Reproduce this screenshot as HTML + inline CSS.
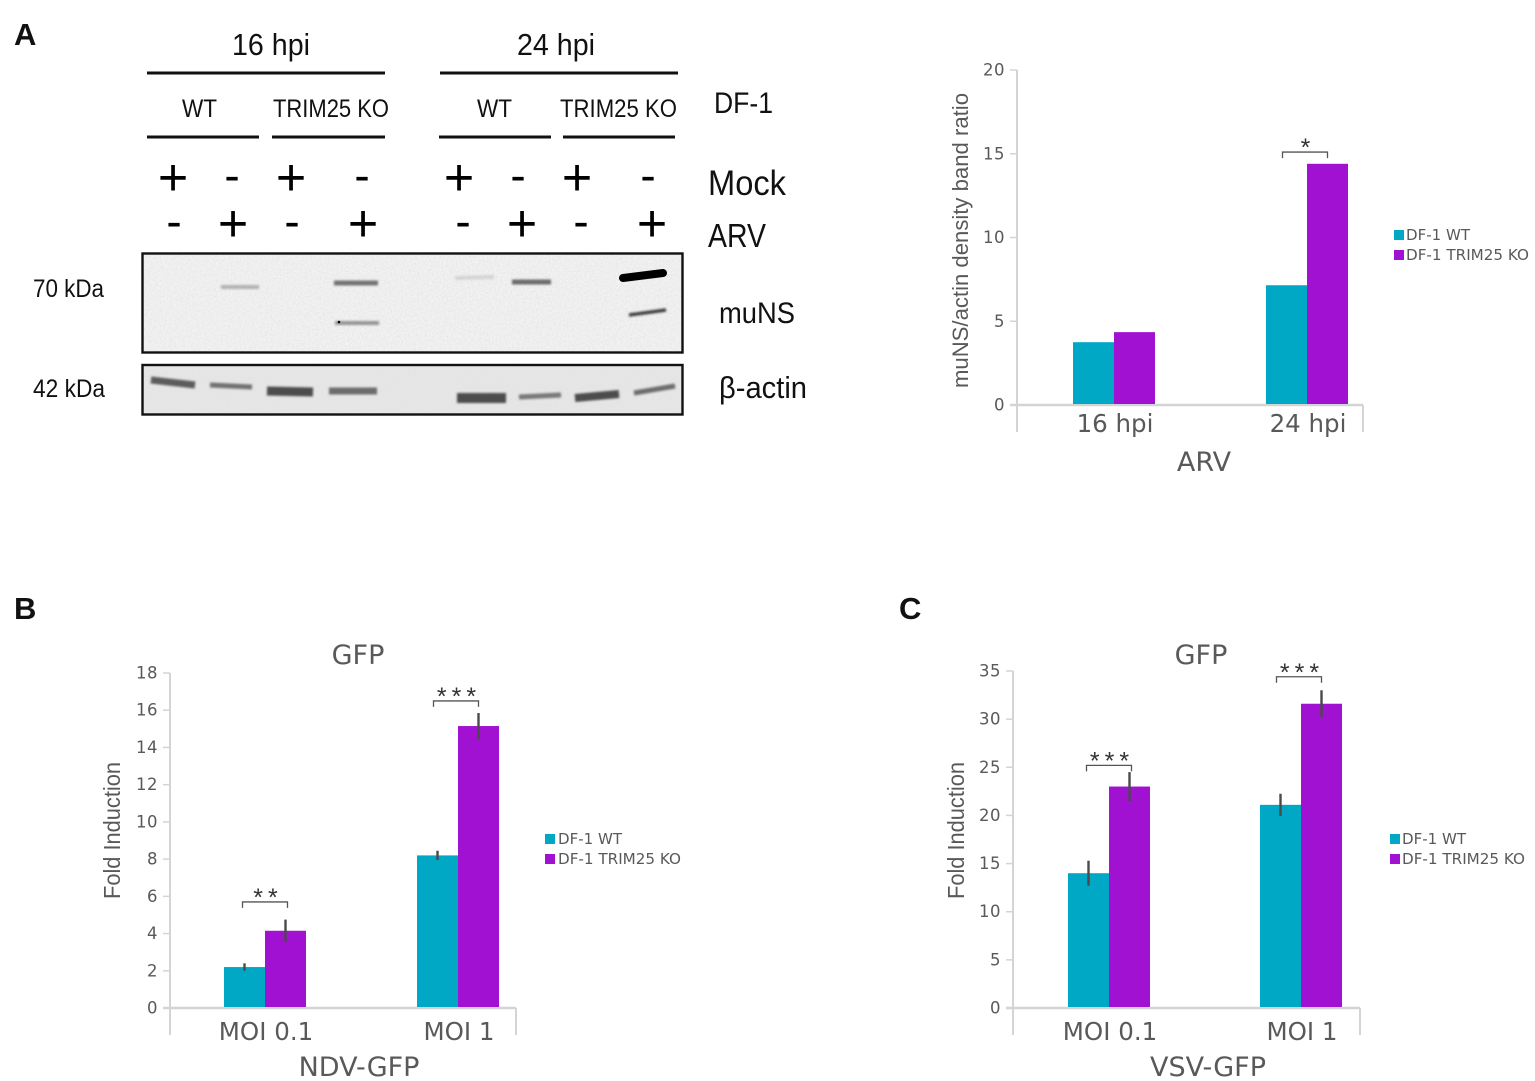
<!DOCTYPE html>
<html lang="en">
<head>
<meta charset="utf-8">
<title>TRIM25 KO figure</title>
<style>
html,body{margin:0;padding:0;background:#fff;width:1535px;height:1081px;overflow:hidden}
svg{display:block;filter:blur(0.35px)}
.w{font-family:"Liberation Sans",sans-serif;fill:#111}
.t{font-family:"DejaVu Sans",sans-serif;fill:#595959}
.pm{font-family:"Liberation Sans",sans-serif;fill:#000;text-anchor:middle}
</style>
</head>
<body>
<svg id="fig" xmlns="http://www.w3.org/2000/svg" width="1535" height="1081" viewBox="0 0 1535 1081">
<defs>
<filter id="soft" filterUnits="userSpaceOnUse" x="130" y="240" width="570" height="190"><feGaussianBlur stdDeviation="1.1"/></filter>
<filter id="noise" x="0" y="0" width="100%" height="100%"><feTurbulence type="fractalNoise" baseFrequency="0.55" numOctaves="2" seed="4"/><feColorMatrix type="matrix" values="0 0 0 0 0.45  0 0 0 0 0.45  0 0 0 0 0.45  0.9 0 0 0 -0.3"/></filter>
</defs>

<text class="w" x="14" y="45" font-size="31" font-weight="bold">A</text>
<text class="w" x="14" y="619" font-size="31" font-weight="bold">B</text>
<text class="w" x="899" y="619" font-size="31" font-weight="bold">C</text>

<g>
<text class="w" x="232" y="55" font-size="31" textLength="78" lengthAdjust="spacingAndGlyphs">16 hpi</text>
<text class="w" x="517" y="55" font-size="31" textLength="78" lengthAdjust="spacingAndGlyphs">24 hpi</text>
<rect x="147" y="71.5" width="238" height="3" fill="#111"/>
<rect x="440" y="71.5" width="238" height="3" fill="#111"/>
<text class="w" x="182" y="117" font-size="25" textLength="35" lengthAdjust="spacingAndGlyphs">WT</text>
<text class="w" x="273" y="117" font-size="25" textLength="116" lengthAdjust="spacingAndGlyphs">TRIM25 KO</text>
<text class="w" x="477" y="117" font-size="25" textLength="35" lengthAdjust="spacingAndGlyphs">WT</text>
<text class="w" x="560" y="117" font-size="25" textLength="117" lengthAdjust="spacingAndGlyphs">TRIM25 KO</text>
<text class="w" x="714" y="113" font-size="30" textLength="59" lengthAdjust="spacingAndGlyphs">DF-1</text>
<rect x="147" y="135.5" width="112" height="3" fill="#111"/>
<rect x="272" y="135.5" width="113" height="3" fill="#111"/>
<rect x="439" y="135.5" width="112" height="3" fill="#111"/>
<rect x="563" y="135.5" width="112" height="3" fill="#111"/>
</g>

<g>
<text class="pm" x="173" y="195" font-size="52">+</text>
<text class="pm" x="232" y="191" font-size="46">-</text>
<text class="pm" x="291" y="195" font-size="52">+</text>
<text class="pm" x="362" y="191" font-size="46">-</text>
<text class="pm" x="459" y="195" font-size="52">+</text>
<text class="pm" x="518" y="191" font-size="46">-</text>
<text class="pm" x="577" y="195" font-size="52">+</text>
<text class="pm" x="648" y="191" font-size="46">-</text>
<text class="pm" x="174" y="237" font-size="46">-</text>
<text class="pm" x="233" y="241" font-size="52">+</text>
<text class="pm" x="292" y="237" font-size="46">-</text>
<text class="pm" x="363" y="241" font-size="52">+</text>
<text class="pm" x="463" y="237" font-size="46">-</text>
<text class="pm" x="522" y="241" font-size="52">+</text>
<text class="pm" x="581" y="237" font-size="46">-</text>
<text class="pm" x="652" y="241" font-size="52">+</text>
<text class="w" x="708" y="195" font-size="35" textLength="78" lengthAdjust="spacingAndGlyphs">Mock</text>
<text class="w" x="708" y="247" font-size="33" textLength="58" lengthAdjust="spacingAndGlyphs">ARV</text>
</g>

<g>
<rect x="143" y="254" width="539" height="98" fill="#f2f2f2"/>
<rect x="143" y="254" width="539" height="98" filter="url(#noise)" opacity="0.4"/>
<line x1="221" y1="287" x2="259" y2="287" stroke="#777" stroke-width="4" opacity=".5" filter="url(#soft)"/>
<line x1="334" y1="283" x2="378" y2="283" stroke="#555" stroke-width="5" opacity=".8" filter="url(#soft)"/>
<line x1="335" y1="323" x2="379" y2="323" stroke="#666" stroke-width="4" opacity=".65" filter="url(#soft)"/>
<line x1="512" y1="282" x2="551" y2="282" stroke="#555" stroke-width="5" opacity=".85" filter="url(#soft)"/>
<line x1="455" y1="278" x2="494" y2="277" stroke="#888" stroke-width="4" opacity=".25" filter="url(#soft)"/>
<line x1="623" y1="278" x2="663" y2="273" stroke="#000" stroke-width="8" stroke-linecap="round"/>
<line x1="629" y1="315" x2="666" y2="310" stroke="#222" stroke-width="3.5" opacity=".85" filter="url(#soft)"/>
<circle cx="339" cy="322" r="1.3" fill="#000"/>
<rect x="142.5" y="253.5" width="540" height="99" fill="none" stroke="#111" stroke-width="2.4"/>
</g>

<g>
<rect x="143" y="365" width="539" height="49" fill="#e6e6e6"/>
<rect x="143" y="365" width="539" height="49" filter="url(#noise)" opacity="0.1"/>
<line x1="151" y1="380" x2="195" y2="385" stroke="#444" stroke-width="7" opacity=".85" filter="url(#soft)"/>
<line x1="210" y1="385" x2="252" y2="387" stroke="#555" stroke-width="5" opacity=".8" filter="url(#soft)"/>
<line x1="267" y1="391" x2="313" y2="392" stroke="#333" stroke-width="9" opacity=".85" filter="url(#soft)"/>
<line x1="329" y1="391" x2="377" y2="391" stroke="#444" stroke-width="7" opacity=".75" filter="url(#soft)"/>
<line x1="457" y1="398" x2="506" y2="398" stroke="#333" stroke-width="10" opacity=".85" filter="url(#soft)"/>
<line x1="519" y1="397" x2="561" y2="395" stroke="#555" stroke-width="5" opacity=".75" filter="url(#soft)"/>
<line x1="575" y1="398" x2="619" y2="394" stroke="#333" stroke-width="8" opacity=".85" filter="url(#soft)"/>
<line x1="634" y1="393" x2="675" y2="386" stroke="#444" stroke-width="5" opacity=".75" filter="url(#soft)"/>
<rect x="142.5" y="365" width="540" height="49.5" fill="none" stroke="#111" stroke-width="2.4"/>
</g>

<text class="w" x="33" y="297" font-size="25" textLength="71" lengthAdjust="spacingAndGlyphs">70 kDa</text>
<text class="w" x="33" y="397" font-size="25" textLength="72" lengthAdjust="spacingAndGlyphs">42 kDa</text>
<text class="w" x="719" y="323" font-size="30" textLength="76" lengthAdjust="spacingAndGlyphs">muNS</text>
<text class="w" x="719" y="398" font-size="31" textLength="88" lengthAdjust="spacingAndGlyphs">β-actin</text>

<g>
<rect x="1394" y="230" width="10" height="10" fill="#01a8c5"/>
<text class="t" x="1406" y="240" font-size="15.5" textLength="64" lengthAdjust="spacingAndGlyphs">DF-1 WT</text>
<rect x="1394" y="250" width="10" height="10" fill="#a011d1"/>
<text class="t" x="1406" y="260" font-size="15.5" textLength="123" lengthAdjust="spacingAndGlyphs">DF-1 TRIM25 KO</text>
</g>
<g>
<rect x="545" y="834" width="10" height="10" fill="#01a8c5"/>
<text class="t" x="558" y="844" font-size="15.5" textLength="64" lengthAdjust="spacingAndGlyphs">DF-1 WT</text>
<rect x="545" y="854" width="10" height="10" fill="#a011d1"/>
<text class="t" x="558" y="864" font-size="15.5" textLength="123" lengthAdjust="spacingAndGlyphs">DF-1 TRIM25 KO</text>
</g>
<g>
<rect x="1390" y="834" width="10" height="10" fill="#01a8c5"/>
<text class="t" x="1402" y="844" font-size="15.5" textLength="64" lengthAdjust="spacingAndGlyphs">DF-1 WT</text>
<rect x="1390" y="854" width="10" height="10" fill="#a011d1"/>
<text class="t" x="1402" y="864" font-size="15.5" textLength="123" lengthAdjust="spacingAndGlyphs">DF-1 TRIM25 KO</text>
</g>

<text class="t" x="1204" y="471" font-size="27" text-anchor="middle">ARV</text>
<text class="t" x="359" y="1076" font-size="27" text-anchor="middle">NDV-GFP</text>
<text class="t" x="1208" y="1076" font-size="27" text-anchor="middle">VSV-GFP</text>
<text class="t" x="358" y="664" font-size="27" text-anchor="middle">GFP</text>
<text class="t" x="1201" y="664" font-size="27" text-anchor="middle">GFP</text>
<text class="t" transform="translate(968,388) rotate(-90)" style="font-family:'Liberation Sans',sans-serif" font-size="22" textLength="295" lengthAdjust="spacingAndGlyphs">muNS/actin density band ratio</text>
<text class="t" transform="translate(120,899) rotate(-90)" style="font-family:'Liberation Sans',sans-serif" font-size="23" textLength="137" lengthAdjust="spacingAndGlyphs">Fold Induction</text>
<text class="t" transform="translate(964,899) rotate(-90)" style="font-family:'Liberation Sans',sans-serif" font-size="23" textLength="137" lengthAdjust="spacingAndGlyphs">Fold Induction</text>
</svg>

<script>
// Panel A: muNS/actin density ratio
const arvCategories = ['16 hpi', '24 hpi'];
const arvWt = [3.75, 7.15];
const arvKo = [4.35, 14.4];
const arvWtErr = [0, 0];
const arvKoErr = [0, 0];
const arvTicks = [0, 5, 10, 15, 20];
const arvSigLabels = ['', '*'];
const arvSigLevels = [0, 15.1];

// Panel B: NDV-GFP fold induction
const ndvCategories = ['MOI 0.1', 'MOI 1'];
const ndvWt = [2.2, 8.2];
const ndvKo = [4.15, 15.15];
const ndvWtErr = [0.2, 0.25];
const ndvKoErr = [0.6, 0.7];
const ndvTicks = [0, 2, 4, 6, 8, 10, 12, 14, 16, 18];
const ndvSigLabels = ['**', '***'];
const ndvSigLevels = [5.7, 16.5];

// Panel C: VSV-GFP fold induction
const vsvCategories = ['MOI 0.1', 'MOI 1'];
const vsvWt = [14, 21.1];
const vsvKo = [23, 31.6];
const vsvWtErr = [1.3, 1.15];
const vsvKoErr = [1.5, 1.4];
const vsvTicks = [0, 5, 10, 15, 20, 25, 30, 35];
const vsvSigLabels = ['***', '***'];
const vsvSigLevels = [25.2, 34.4];

const NS = 'http://www.w3.org/2000/svg';
const fig = document.getElementById('fig');
const AXIS = '#d4d4d4', WT = '#01a8c5', KO = '#a011d1';

function make(tag, parent, props, txt) {
  const el = document.createElementNS(NS, tag);
  for (const k in props) el.setAttribute(k, props[k]);
  if (txt !== undefined) el.textContent = txt;
  parent.appendChild(el);
  return el;
}

function drawChart(prefix, frame, categories, wt, ko, wtErr, koErr, ticks, sigLabels, sigLevels) {
  const yMax = ticks[ticks.length - 1];
  const y = v => frame.y0 - v * (frame.y0 - frame.yTop) / yMax;
  const cx = i => frame.first + i * frame.step;
  const g = make('g', fig, {});
  
  

  const yAxis = make('line', g, {x1: frame.x0, x2: frame.x0, y1: frame.yTop, y2: frame.y0 + 27, stroke: AXIS, 'stroke-width': 2});
  
  
  const xAxis = make('line', g, {x1: frame.x0 - 7, x2: frame.x1, y1: frame.y0, y2: frame.y0, stroke: AXIS, 'stroke-width': 2.4});
  
  
  const xEnd = make('line', g, {x1: frame.x1, x2: frame.x1, y1: frame.y0, y2: frame.y0 + 27, stroke: AXIS, 'stroke-width': 2});
  
  

  ticks.forEach(t => {
    const mark = make('line', g, {x1: frame.x0 - 7, x2: frame.x0, y1: y(t), y2: y(t), stroke: AXIS, 'stroke-width': 1.5});
    
    
    const label = make('text', g, {x: frame.x0 - 12, y: y(t) + 5.5, 'text-anchor': 'end', 'font-size': 16.5, 'letter-spacing': 0.5, class: 't'}, t);
    
    
  });

  categories.forEach((c, i) => {
    const left = make('rect', g, {x: cx(i) - frame.bw, y: y(wt[i]), width: frame.bw, height: frame.y0 - 1 - y(wt[i]), fill: WT});
    
    
    const right = make('rect', g, {x: cx(i), y: y(ko[i]), width: frame.bw, height: frame.y0 - 1 - y(ko[i]), fill: KO});
    
    

    if (wtErr[i] > 0) {
      const e1 = make('line', g, {x1: cx(i) - frame.bw / 2, x2: cx(i) - frame.bw / 2, y1: y(wt[i] + wtErr[i]), y2: y(wt[i] - wtErr[i]), stroke: '#4a4a4a', 'stroke-width': 2.4});
      
      
    }
    if (koErr[i] > 0) {
      const e2 = make('line', g, {x1: cx(i) + frame.bw / 2, x2: cx(i) + frame.bw / 2, y1: y(ko[i] + koErr[i]), y2: y(ko[i] - koErr[i]), stroke: '#4a4a4a', 'stroke-width': 2.4});
      
      
    }

    const catLabel = make('text', g, {x: cx(i) + 1, y: frame.y0 + frame.labelDy, 'text-anchor': 'middle', 'font-size': 24.5, class: 't'}, c);
    
    

    if (sigLabels[i]) {
      const by = y(sigLevels[i]);
      const xa = cx(i) - frame.bw / 2 - 2 - i * 2, xb = cx(i) + frame.bw / 2 + 2 - i * 2;
      const bracket = make('path', g, {d: 'M' + xa + ' ' + (by + 6) + 'V' + by + 'H' + xb + 'V' + (by + 6), fill: 'none', stroke: '#555', 'stroke-width': 1.3});
      
      
      const star = make('text', g, {x: (xa + xb) / 2 + 3, y: by + 4, 'text-anchor': 'middle', 'font-size': 25, 'letter-spacing': 5, fill: '#333', style: 'font-family:"Liberation Sans",sans-serif'}, sigLabels[i]);
      
      
    }
  });
}

drawChart('arv', {x0: 1017, x1: 1363, y0: 405, yTop: 70, first: 1114, step: 193, bw: 41, labelDy: 27},
  arvCategories, arvWt, arvKo, arvWtErr, arvKoErr, arvTicks, arvSigLabels, arvSigLevels);
drawChart('ndv', {x0: 170, x1: 516, y0: 1008, yTop: 673, first: 265, step: 193, bw: 41, labelDy: 32},
  ndvCategories, ndvWt, ndvKo, ndvWtErr, ndvKoErr, ndvTicks, ndvSigLabels, ndvSigLevels);
drawChart('vsv', {x0: 1013, x1: 1360, y0: 1008, yTop: 671, first: 1109, step: 192, bw: 41, labelDy: 32},
  vsvCategories, vsvWt, vsvKo, vsvWtErr, vsvKoErr, vsvTicks, vsvSigLabels, vsvSigLevels);
</script>
</body>
</html>
